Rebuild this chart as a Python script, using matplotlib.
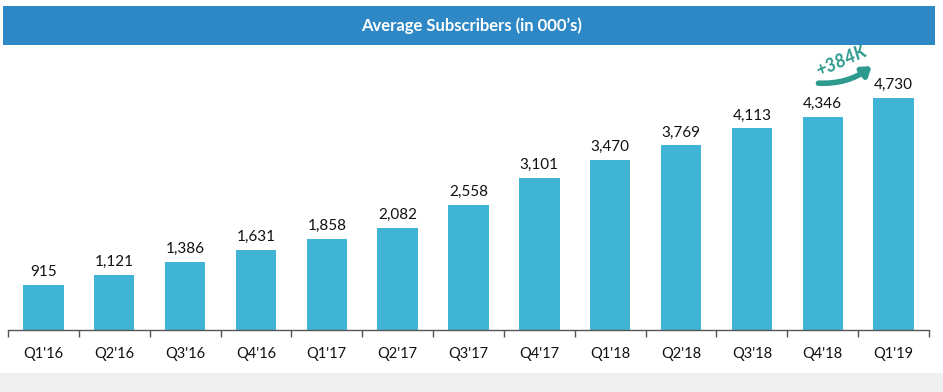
import numpy as np
import matplotlib
matplotlib.use("Agg")
import matplotlib.pyplot as plt
from matplotlib.patches import Rectangle

quarters = ["Q1'16", "Q2'16", "Q3'16", "Q4'16", "Q1'17", "Q2'17", "Q3'17",
            "Q4'17", "Q1'18", "Q2'18", "Q3'18", "Q4'18", "Q1'19"]
subscribers = [915, 1121, 1386, 1631, 1858, 2082, 2558,
               3101, 3470, 3769, 4113, 4346, 4730]
title = "Average Subscribers (in 000\u2019s)"
growth_label = "+384K"

plt.rcParams['font.family'] = ['Lato', 'DejaVu Sans']

fig = plt.figure(figsize=(9.43, 3.92), dpi=100)
fig.patch.set_facecolor("white")

# grey strip at the bottom
fig.patches.append(Rectangle((0, 0), 1, 19 / 392, transform=fig.transFigure,
                             facecolor="#f0f0f0", edgecolor="none", zorder=0))

# title banner
fig.patches.append(Rectangle((3 / 943, (392 - 45) / 392), 932 / 943, 39 / 392,
                             transform=fig.transFigure, facecolor="#2d88c5",
                             edgecolor="none", zorder=1))
fig.text(0.5, (392 - 26) / 392, title, ha="center", va="center",
         color="white", fontsize=12, fontweight="bold")

ax = fig.add_axes([8 / 943, (392 - 330) / 392, 921 / 943, 282 / 392])
x = np.arange(len(quarters))
ax.bar(x, subscribers, width=0.57, color="#40b4d4", zorder=2)
for xi, v in zip(x, subscribers):
    ax.text(xi, v + 120, f"{v:,}", ha="center", va="bottom", fontsize=11,
            color="#111111")

ax.set_xlim(-0.5, len(quarters) - 0.5)
ax.set_ylim(0, 5755)
ax.set_yticks([])
for s in ["top", "right", "left"]:
    ax.spines[s].set_visible(False)
ax.spines["bottom"].set_color("#555555")
ax.spines["bottom"].set_linewidth(1.0)
ax.set_xticks(x)
ax.set_xticklabels(quarters, fontsize=10.5, color="#111111")
ax.tick_params(axis="x", which="major", length=0, pad=12)
ax.set_xticks(np.arange(-0.5, len(quarters), 1), minor=True)
ax.tick_params(axis="x", which="minor", length=5, color="#555555", width=1)
ax.patch.set_alpha(0)

# growth annotation between last two bars
ax.annotate("", xy=(11.72, 5420), xytext=(10.9, 5040),
            arrowprops=dict(arrowstyle="-|>,head_length=0.5,head_width=0.35",
                            color="#2e9a8e", lw=4,
                            connectionstyle="arc3,rad=0.2"),
            annotation_clip=False)
ax.text(11.27, 5480, growth_label, rotation=24, ha="center", va="center",
        color="#2e9a8e", fontsize=13, fontweight="bold", style="italic")

fig.savefig("out.png", dpi=100)
